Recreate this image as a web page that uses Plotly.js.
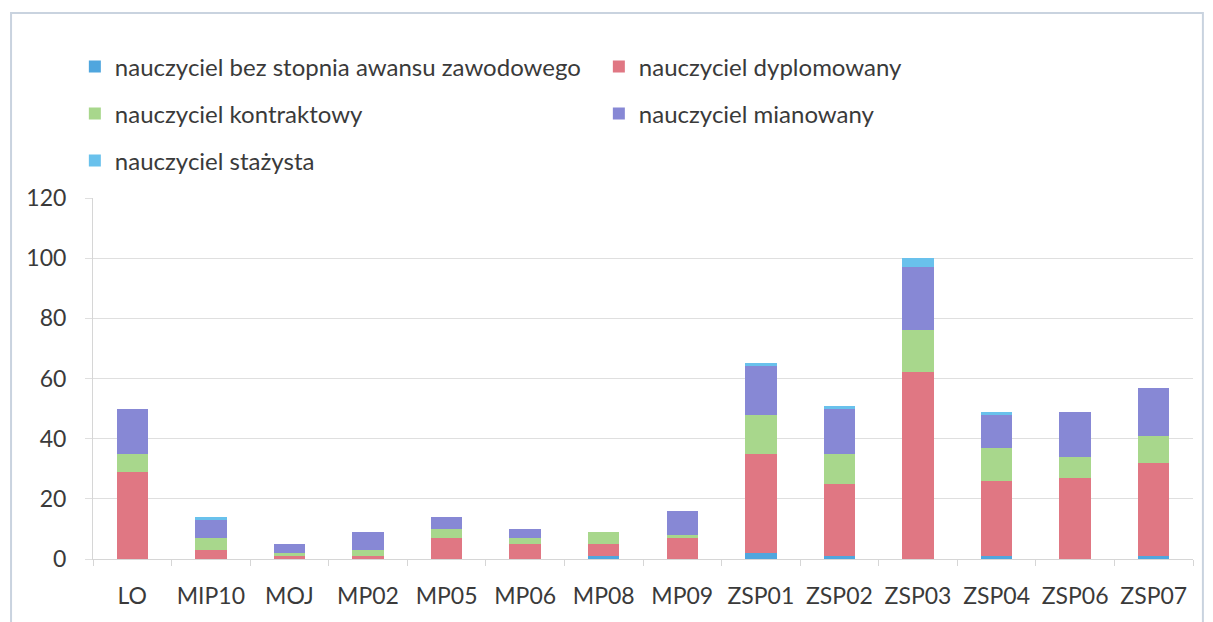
<!DOCTYPE html>
<html>
<head>
<meta charset="utf-8">
<script src="https://cdn.plot.ly/plotly-3.0.1.min.js"></script>
<style>html,body{margin:0;padding:0;background:#fff;}#chart{width:1213px;height:622px;}</style>
</head>
<body>
<div id="chart"></div>
<script>
const categories = ["LO","MIP10","MOJ","MP02","MP05","MP06","MP08","MP09","ZSP01","ZSP02","ZSP03","ZSP04","ZSP06","ZSP07"];
const bezStopnia   = [0, 0, 0, 0, 0, 0, 1, 0, 2, 1, 0, 1, 0, 1];
const dyplomowany  = [29, 3, 1, 1, 7, 5, 4, 7, 33, 24, 62, 25, 27, 31];
const kontraktowy  = [6, 4, 1, 2, 3, 2, 4, 1, 13, 10, 14, 11, 7, 9];
const mianowany    = [15, 6, 3, 6, 4, 3, 0, 8, 16, 15, 21, 11, 15, 16];
const stazysta     = [0, 1, 0, 0, 0, 0, 0, 0, 1, 1, 3, 1, 0, 0];
const yTicks = [0, 20, 40, 60, 80, 100, 120];

const FONT = "Lato, 'Open Sans', sans-serif";
const TXT = "#3a3a3a";

function bar(name, y, color, legend) {
  return {type: "bar", name: name, x: categories, y: y, legend: legend,
          marker: {color: color, line: {width: 0}}, hoverinfo: "x+y+name"};
}

const data = [
  bar("nauczyciel bez stopnia awansu zawodowego", bezStopnia, "#4FA6DE", "legend"),
  bar("nauczyciel dyplomowany", dyplomowany, "#E07783", "legend"),
  bar("nauczyciel kontraktowy", kontraktowy, "#A8D78C", "legend2"),
  bar("nauczyciel mianowany", mianowany, "#8788D5", "legend2"),
  bar("nauczyciel stażysta", stazysta, "#69C1EC", "legend3")
];

const legBase = {orientation: "h", x: -0.0165, xanchor: "left", yanchor: "middle",
  font: {family: FONT, size: 24, color: TXT}, bgcolor: "rgba(0,0,0,0)",
  entrywidth: 479, entrywidthmode: "pixels", traceorder: "normal", itemclick: false};

const layout = {
  width: 1213, height: 622,
  margin: {l: 93, r: 20, t: 198, b: 63},
  paper_bgcolor: "#ffffff", plot_bgcolor: "#ffffff",
  barmode: "stack", bargap: 0.6,
  font: {family: FONT, size: 23, color: TXT},
  xaxis: {type: "category", showline: true, linecolor: "#d6d6d6", linewidth: 1,
          ticks: "outside", tickson: "boundaries", ticklen: 6, tickcolor: "#d6d6d6",
          ticklabelstandoff: 16, tickfont: {family: FONT, size: 23, color: TXT},
          showgrid: false, zeroline: false},
  yaxis: {range: [0, 120], tickvals: yTicks, ticktext: yTicks.map(String),
          showgrid: true, gridcolor: "#dfdfdf", gridwidth: 1,
          showline: true, linecolor: "#d6d6d6", ticks: "outside", ticklen: 7, tickcolor: "#dfdfdf",
          ticklabelstandoff: 14, tickfont: {family: FONT, size: 23, color: TXT}, zeroline: false},
  legend: Object.assign({}, legBase, {y: 1.363}),
  legend2: Object.assign({}, legBase, {y: 1.233}),
  legend3: Object.assign({}, legBase, {y: 1.1025}),
  shapes: [{type: "rect", xref: "paper", yref: "paper", x0: -0.0745, x1: 1.009, y0: -0.2, y1: 1.5125,
            line: {color: "#c9d3df", width: 2}, fillcolor: "rgba(0,0,0,0)", layer: "below"}]
};

Plotly.newPlot("chart", data, layout, {displayModeBar: false, staticPlot: true});
</script>
</body>
</html>
